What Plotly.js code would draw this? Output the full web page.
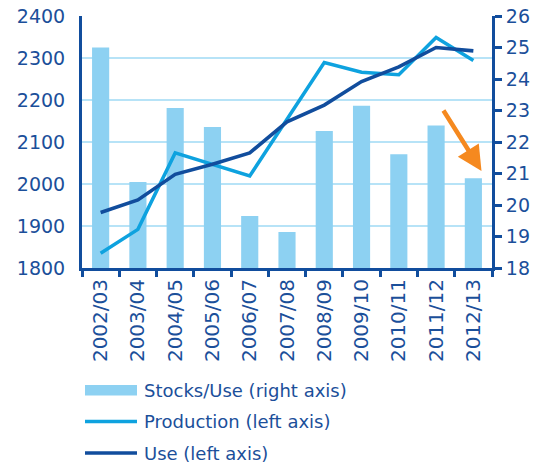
<!DOCTYPE html>
<html>
<head>
<meta charset="utf-8">
<script src="https://cdn.plot.ly/plotly-3.0.1.min.js"></script>
<style>html,body{margin:0;padding:0;background:#fff;}#chart{width:543px;height:466px;}</style>
</head>
<body>
<div id="chart"></div>
<script>
const categories = ['2002/03','2003/04','2004/05','2005/06','2006/07','2007/08','2008/09','2009/10','2010/11','2011/12','2012/13'];
const stocksUse = [25.0, 20.73, 23.08, 22.48, 19.65, 19.14, 22.35, 23.15, 21.61, 22.52, 20.85];
const production = [1835, 1892, 2074, 2047, 2019, 2154, 2289, 2266, 2260, 2349, 2294];
const use = [1932, 1962, 2023, 2047, 2074, 2148, 2188, 2244, 2279, 2325, 2317];
const legendLabels = ['Stocks/Use (right axis)', 'Production (left axis)', 'Use (left axis)'];

const barColor = '#8dd1f2';
const prodColor = '#0ea2df';
const useColor = '#114d9d';
const textColor = '#1b4f9a';
const font = 'DejaVu Sans, sans-serif';

// bars on the primary (right-side) axis, lines on the overlaying (left-side) axis so they draw on top
const traces = [
  {type:'bar', x:categories, y:stocksUse, yaxis:'y', marker:{color:barColor}, showlegend:false, name:legendLabels[0]},
  {type:'scatter', mode:'lines', x:categories, y:production, yaxis:'y2', line:{color:prodColor, width:3.5}, showlegend:false, name:legendLabels[1]},
  {type:'scatter', mode:'lines', x:categories, y:use, yaxis:'y2', line:{color:useColor, width:3.6}, showlegend:false, name:legendLabels[2]}
];

const plotTop = 16, plotBottom = 268, plotLeft = 82, plotRight = 492;
const py = v => (plotBottom - v) / (plotBottom - plotTop);
const px = v => (v - plotLeft) / (plotRight - plotLeft);

const legRows = [390, 421.5, 453];
const shapes = [
  {type:'rect', xref:'paper', yref:'paper', x0:px(85), x1:px(137), y0:py(395.5), y1:py(385), fillcolor:barColor, line:{width:0}},
  {type:'line', xref:'paper', yref:'paper', x0:px(85), x1:px(137), y0:py(legRows[1]), y1:py(legRows[1]), line:{color:prodColor, width:3.5}},
  {type:'line', xref:'paper', yref:'paper', x0:px(85), x1:px(137), y0:py(legRows[2]), y1:py(legRows[2]), line:{color:useColor, width:3.6}}
];
const annotations = legendLabels.map((t,i)=>({
  text:t, xref:'paper', yref:'paper', x:px(142), y:py(legRows[i]), xanchor:'left', yanchor:'middle',
  showarrow:false, font:{family:font, size:18, color:textColor}
}));
annotations.push({
  xref:'paper', yref:'paper', x:px(481.5), y:py(171), ax:-39, ay:-62, axref:'pixel', ayref:'pixel',
  showarrow:true, arrowhead:2, arrowsize:1.1, arrowwidth:4.5, arrowcolor:'#f5891f', text:''
});

const layout = {
  width:543, height:466,
  margin:{l:82, r:51, t:16, b:198, pad:0},
  paper_bgcolor:'#fff', plot_bgcolor:'#fff',
  bargap:0.54,
  showlegend:false,
  font:{family:font, color:textColor},
  xaxis:{
    type:'category', tickangle:-90, tickfont:{family:font, size:20, color:textColor},
    showline:true, linecolor:useColor, linewidth:3, ticks:'outside', ticklen:6, tickwidth:3, tickcolor:useColor,
    tickson:'boundaries', showgrid:false, zeroline:false, fixedrange:true
  },
  yaxis:{
    range:[18,26], dtick:1, side:'right', tickfont:{family:font, size:19, color:textColor},
    showline:true, linecolor:useColor, linewidth:3, ticks:'outside', ticklen:7, tickwidth:3, tickcolor:useColor,
    showgrid:false, zeroline:false
  },
  yaxis2:{
    range:[1800,2400], dtick:100, overlaying:'y', side:'left', tickfont:{family:font, size:19, color:textColor},
    showline:true, linecolor:useColor, linewidth:3, ticks:'', showgrid:true, gridcolor:'#b7e3f7', gridwidth:2.5,
    zeroline:false, ticklabelstandoff:10
  },
  shapes:shapes,
  annotations:annotations
};

Plotly.newPlot('chart', traces, layout, {staticPlot:true, displayModeBar:false});
</script>
</body>
</html>
